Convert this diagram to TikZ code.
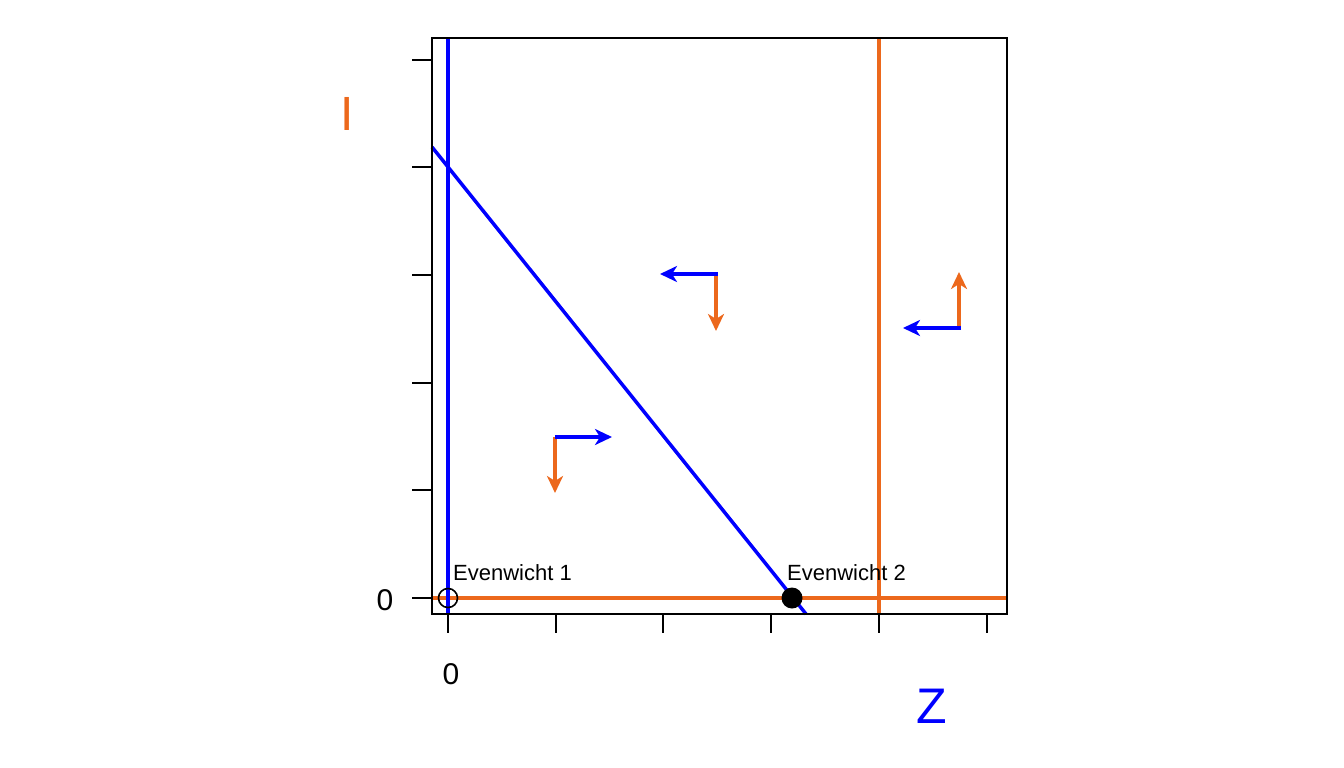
\documentclass[tikz,border=0pt]{standalone}
\usepackage{fontspec}
\setmainfont{Liberation Sans}
\usetikzlibrary{arrows.meta}
\definecolor{myorange}{RGB}{236,104,28}
\definecolor{myblue}{RGB}{0,0,255}
\tikzset{
  frame/.style={draw=black,line width=1.6pt},
  tick/.style={draw=black,line width=1.4pt},
  bline/.style={draw=myblue,line width=3.5pt},
  oline/.style={draw=myorange,line width=3.5pt},
  barrow/.style={draw=myblue,line width=3.5pt,-{Stealth[length=17pt,width=16pt,inset=5pt]}},
  oarrow/.style={draw=myorange,line width=3.5pt,-{Stealth[length=17pt,width=16pt,inset=5pt]}},
  ticklabel/.style={inner sep=0pt,anchor=base,font=\fontsize{30}{34}\selectfont},
  eqlabel/.style={inner sep=0pt,anchor=base west,font=\fontsize{22}{26}\selectfont},
}
\begin{document}
\begin{tikzpicture}[x=1pt,y=-1pt]
\useasboundingbox (0,0) rectangle (1344,768);
% frame corners
\coordinate (BL) at (432,614);
\coordinate (TR) at (1007,38);
% curves
\coordinate (oh1) at (432,598);
\coordinate (oh2) at (1007,598);
\coordinate (ov1) at (879,38);
\coordinate (ov2) at (879,614);
\coordinate (bv1) at (448,38);
\coordinate (bv2) at (448,614);
\coordinate (bd1) at (432,147);
\coordinate (bd2) at (806,614);
\draw[oline] (oh1) -- (oh2);
\draw[oline] (ov1) -- (ov2);
\draw[bline] (bv1) -- (bv2);
\draw[bline] (bd1) -- (bd2);
\draw[frame] (BL) rectangle (TR);
% y ticks
\foreach \y [count=\i] in {60,167,275,383,490,598} {
  \coordinate (ya\i) at (412,\y);
  \coordinate (yb\i) at (432,\y);
  \draw[tick] (ya\i) -- (yb\i);
}
% x ticks
\foreach \x [count=\i] in {448,556,663,771,879,987} {
  \coordinate (xa\i) at (\x,614);
  \coordinate (xb\i) at (\x,633);
  \draw[tick] (xa\i) -- (xb\i);
}
% equilibria
\node[circle,draw=black,line width=1.6pt,minimum size=19pt,inner sep=0pt] (eq1) at (448,598) {};
\node[circle,fill=black,minimum size=21pt,inner sep=0pt] (eq2) at (792,598) {};
\node[eqlabel] (l1) at (453,580) {Evenwicht 1};
\node[eqlabel] (l2) at (787,580) {Evenwicht 2};
% axis labels
\node[ticklabel] (y0) at (385,610) {0};
\node[ticklabel] (x0) at (451,684) {0};
\node[inner sep=0pt,anchor=base,font=\fontsize{48}{50}\selectfont,text=myorange] (Ilab) at (347,130.5) {I};
\node[inner sep=0pt,anchor=base,font=\fontsize{50}{54}\selectfont,text=myblue] (Zlab) at (932,723) {Z};
% direction arrows
\coordinate (a1) at (718,274); \coordinate (a1b) at (660,274);
\coordinate (a1o) at (716,274); \coordinate (a1c) at (716,331);
\draw[oarrow] (a1o) -- (a1c);
\draw[barrow] (a1) -- (a1b);
\coordinate (a2) at (959,328); \coordinate (a2b) at (959,272);
\coordinate (a2o) at (961,328); \coordinate (a2c) at (903,328);
\draw[oarrow] (a2) -- (a2b);
\draw[barrow] (a2o) -- (a2c);
\coordinate (a3) at (555,437); \coordinate (a3b) at (612,437);
\coordinate (a3o) at (555,437); \coordinate (a3c) at (555,493);
\draw[oarrow] (a3o) -- (a3c);
\draw[barrow] (a3) -- (a3b);
\end{tikzpicture}
\end{document}
